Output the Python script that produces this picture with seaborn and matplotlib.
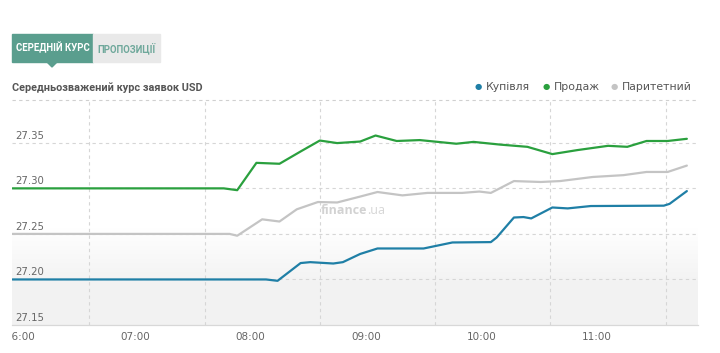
import numpy as np
import pandas as pd
import matplotlib
matplotlib.use('Agg')
import matplotlib.pyplot as plt
import seaborn as sns
from matplotlib.transforms import Bbox
from matplotlib.patches import Rectangle, Polygon

# ---- data (times HH:MM, rate UAH per USD) ----
buy_times = ['05:56', '08:08', '08:14', '08:26', '08:31', '08:43', '08:48', '08:57', '09:06',
             '09:30', '09:45', '10:05', '10:08', '10:17', '10:22', '10:26', '10:37', '10:45',
             '10:57', '11:35', '11:38', '11:47']
buy_rate = [27.200, 27.200, 27.1985, 27.218, 27.219, 27.2175, 27.219, 27.228, 27.234,
            27.234, 27.2406, 27.241, 27.246, 27.268, 27.2685, 27.267, 27.279, 27.278,
            27.2806, 27.281, 27.283, 27.297]

sell_times = ['05:56', '07:46', '07:53', '08:03', '08:15', '08:26', '08:36', '08:45', '08:57',
              '09:05', '09:16', '09:28', '09:47', '09:56', '10:10', '10:24', '10:37', '10:50',
              '11:06', '11:16', '11:26', '11:37', '11:47']
sell_rate = [27.300, 27.300, 27.298, 27.328, 27.327, 27.3405, 27.3525, 27.3497, 27.3514,
             27.358, 27.352, 27.353, 27.349, 27.351, 27.348, 27.3456, 27.3376, 27.342,
             27.3467, 27.3456, 27.352, 27.352, 27.3544]

par_times = ['05:56', '07:49', '07:53', '08:06', '08:15', '08:24', '08:35', '08:45', '08:57',
             '09:06', '09:19', '09:32', '09:50', '09:59', '10:05', '10:17', '10:31', '10:41',
             '10:58', '11:14', '11:26', '11:37', '11:47']
par_rate = [27.250, 27.250, 27.248, 27.266, 27.2636, 27.277, 27.285, 27.2845, 27.291,
            27.296, 27.2923, 27.295, 27.295, 27.2965, 27.295, 27.308, 27.307, 27.308,
            27.3125, 27.3145, 27.318, 27.318, 27.325]

hour_labels = ['06:00', '07:00', '08:00', '09:00', '10:00', '11:00']
y_ticks = [27.15, 27.20, 27.25, 27.30, 27.35]
series_names = ['Купівля', 'Продаж', 'Паритетний']
series_colors = ['#1f7fa6', '#2aa03e', '#c4c4c4']


def to_min(t):
    h, m = t.split(':')
    return int(h) * 60 + int(m)


frames = []
for name, times, rate in zip(series_names, [buy_times, sell_times, par_times],
                             [buy_rate, sell_rate, par_rate]):
    frames.append(pd.DataFrame({'t': [to_min(t) for t in times], 'rate': rate, 'series': name}))
df = pd.concat(frames, ignore_index=True)

sns.set_style('white')
plt.rcParams['font.family'] = ['DejaVu Sans']

fig = plt.figure(figsize=(7.2, 3.53), dpi=100)
ax = fig.add_axes([12 / 720, 28 / 353, 686 / 720, 225 / 353])

# background gradient of plot area (white on top, light grey at the bottom)
grad = np.ones((200, 1, 3))
frac = np.linspace(0, 1, 200)[:, None]  # 0 bottom -> 1 top
shade = np.clip((0.43 - frac) / 0.25, 0, 1)
grad[:, 0, :] = 1 - shade * (1 - 0.95)
ax.imshow(grad, extent=[0, 1, 0, 1], transform=ax.transAxes, origin='lower',
          aspect='auto', zorder=0)

for name, col in zip(series_names, series_colors):
    sub = df[df['series'] == name]
    sns.lineplot(data=sub, x='t', y='rate', color=col, linewidth=1.6, ax=ax, zorder=3)

ax.set_xlim(355.8, 712.8)
ax.set_ylim(27.15, 27.397)
ax.set_xlabel('')
ax.set_ylabel('')

# horizontal dashed grid
for v in y_ticks[1:]:
    ax.axhline(v, color='#d6d6d6', linestyle=(0, (3, 3)), linewidth=0.8, zorder=1)
ax.axhline(27.397, color='#d0d0d0', linestyle=(0, (3, 3)), linewidth=0.8, zorder=1, clip_on=False)

# x ticks: labels on the hour, grid lines offset
major = [to_min(h) for h in hour_labels]
minor = [m + 36 for m in major]
ax.set_xticks(major)
ax.set_xticklabels(hour_labels)
ax.set_xticks(minor, minor=True)
ax.tick_params(axis='x', which='major', length=0, labelsize=7.5, labelcolor='#666666', pad=5)
ax.tick_params(axis='x', which='minor', length=6, color='#d6d6d6', width=0.8, direction='out')
ax.grid(which='minor', axis='x', color='#d6d6d6', linestyle=(0, (3, 3)), linewidth=0.8)
ax.set_yticks([])

for s in ['top', 'right', 'left']:
    ax.spines[s].set_visible(False)
ax.spines['bottom'].set_color('#d8d8d8')
ax.spines['bottom'].set_linewidth(0.9)

# y labels inside the plot above grid lines
for v in y_ticks:
    ax.text(0.0045, v + 0.0025, f'{v:.2f}', transform=ax.get_yaxis_transform(),
            fontsize=7.3, color='#666666', ha='left', va='bottom', zorder=4)

# first x label is cut by the container edge in the original
fig.canvas.draw()
lbl = ax.get_xticklabels()[0]
lbl.set_clip_on(True)
lbl.set_clip_box(Bbox([[11.5, 0], [720, 353]]))

# watermark
ax.text((367 - 12) / 686, (325 - 211) / 225, 'finance', transform=ax.transAxes,
        fontsize=9, fontweight='bold', color='#d2d2d2', ha='right', va='center',
        family='Open Sans', zorder=2)
ax.text((367 - 12) / 686, (325 - 211) / 225, '.ua', transform=ax.transAxes,
        fontsize=9, color='#d6d6d6', ha='left', va='center', family='Open Sans', zorder=2)

# tabs
fig.patches.append(Rectangle((12 / 720, 1 - 62 / 353), 81 / 720, 28 / 353,
                             transform=fig.transFigure, color='#5a9e8e', zorder=1))
fig.patches.append(Polygon([[47 / 720, 1 - 62 / 353], [57 / 720, 1 - 62 / 353],
                            [52 / 720, 1 - 67 / 353]], closed=True,
                           transform=fig.transFigure, color='#5a9e8e', zorder=1))
fig.patches.append(Rectangle((93 / 720, 1 - 62 / 353), 67 / 720, 28 / 353,
                             transform=fig.transFigure, color='#e9e9e9', zorder=1))
fig.text(52.5 / 720, 1 - 48 / 353, 'СЕРЕДНІЙ КУРС', fontsize=6.9, fontweight='bold',
         color='white', ha='center', va='center', family='Roboto')
fig.text(126.5 / 720, 1 - 48 / 353, 'ПРОПОЗИЦІЇ', fontsize=6.9, fontweight='bold',
         color='#6fa89b', ha='center', va='center', family='Roboto')

# title
fig.text(12 / 720, 1 - 88 / 353, 'Середньозважений курс заявок USD', fontsize=7.8,
         fontweight='bold', color='#555555', ha='left', va='center', family='Roboto')

# legend
for dot_x, txt_x, name, col in zip([478, 546, 614], [486, 554, 622], series_names, series_colors):
    fig.text(dot_x / 720, 1 - 87 / 353, '●', fontsize=6, color=col, ha='center', va='center')
    fig.text(txt_x / 720, 1 - 87.5 / 353, name, fontsize=7.8, color='#555555',
             ha='left', va='center')

fig.savefig('out.png', dpi=100)
plt.close(fig)
